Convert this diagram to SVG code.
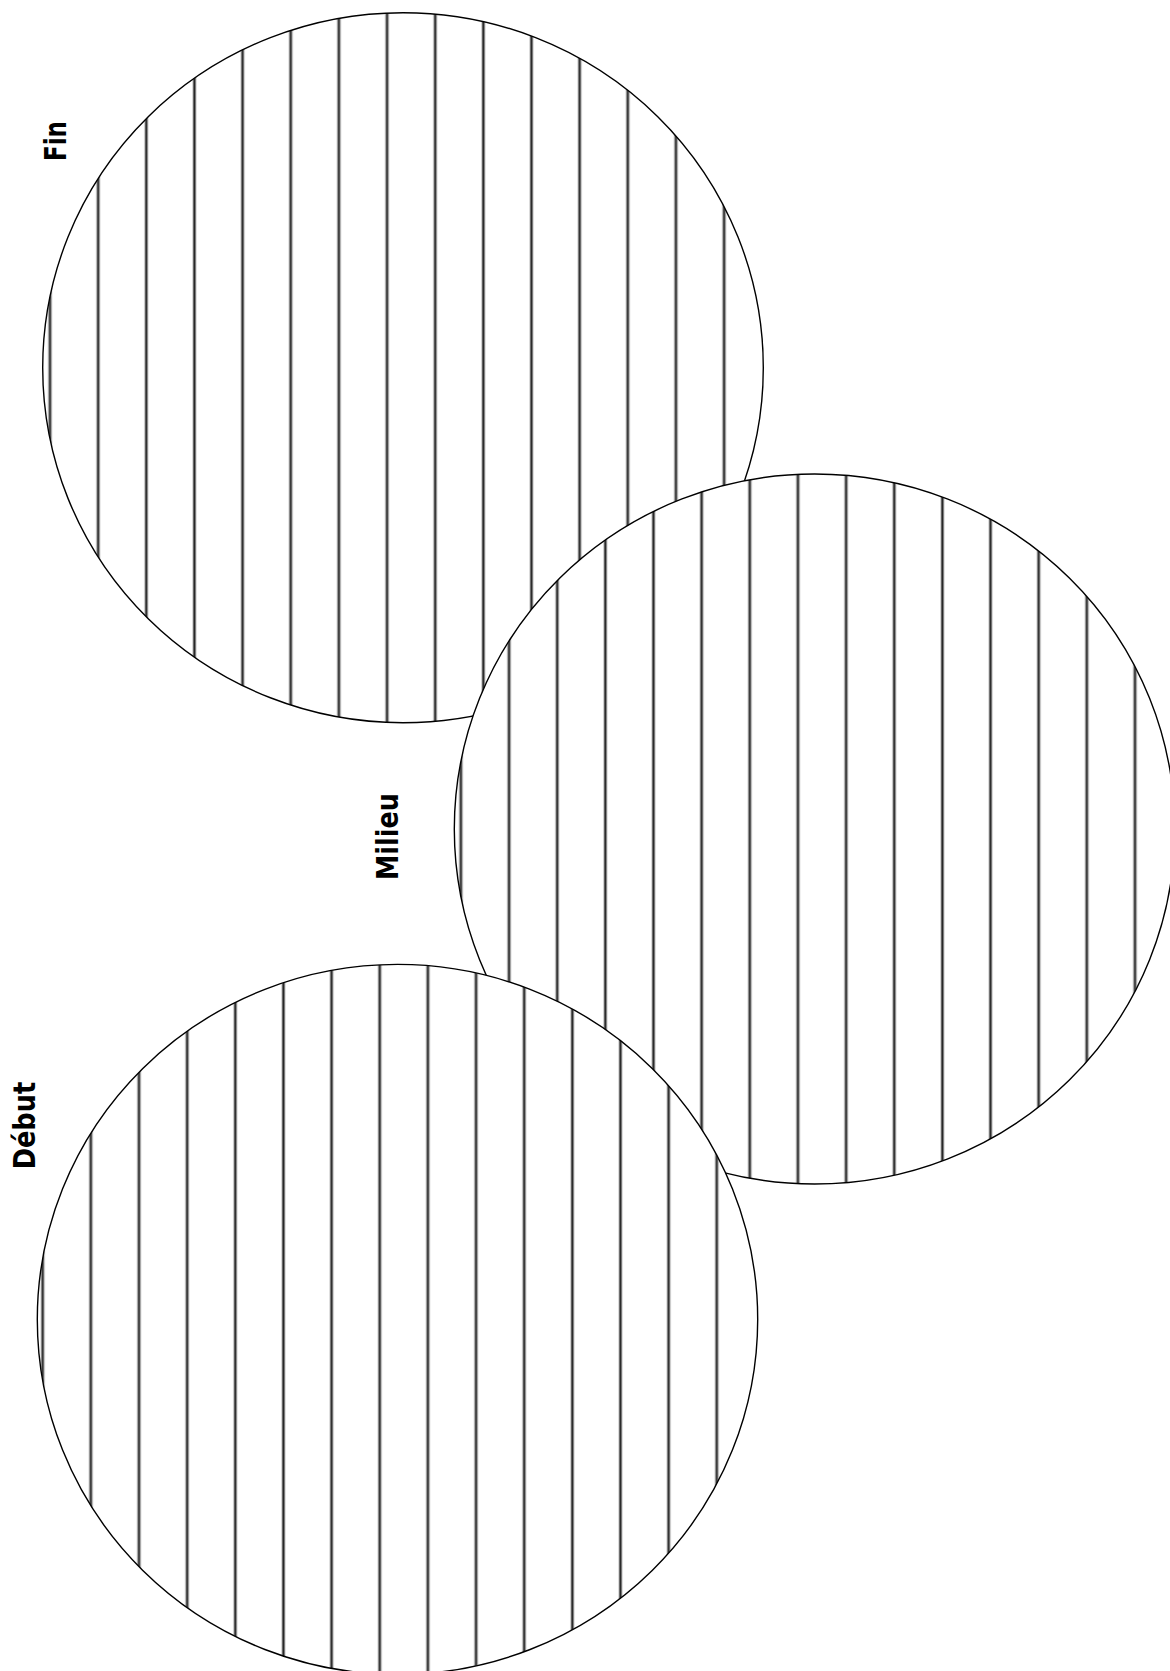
<svg xmlns="http://www.w3.org/2000/svg" width="1170" height="1671" viewBox="0 0 1170 1671">
<style>
.edge{fill:none;stroke:#000;stroke-width:1.4}
.bg{fill:#fff}
.lbl{font-family:"DejaVu Sans","Liberation Sans",sans-serif;font-weight:bold;font-size:31px;fill:#000}
</style>
<defs>
<pattern id="pFin" patternUnits="userSpaceOnUse" x="26" y="0" width="48.15" height="1671">
<rect x="0" y="0" width="48.15" height="1671" fill="#fff"/>
<line x1="24" y1="0" x2="24" y2="1671" stroke="#bdbdbd" stroke-width="4"/>
<line x1="24" y1="0" x2="24" y2="1671" stroke="#262626" stroke-width="2"/>
</pattern>
<pattern id="pMil" patternUnits="userSpaceOnUse" x="436.9" y="0" width="48.15" height="1671">
<rect x="0" y="0" width="48.15" height="1671" fill="#fff"/>
<line x1="24" y1="0" x2="24" y2="1671" stroke="#bdbdbd" stroke-width="4"/>
<line x1="24" y1="0" x2="24" y2="1671" stroke="#262626" stroke-width="2"/>
</pattern>
<pattern id="pDeb" patternUnits="userSpaceOnUse" x="18.7" y="0" width="48.15" height="1671">
<rect x="0" y="0" width="48.15" height="1671" fill="#fff"/>
<line x1="24" y1="0" x2="24" y2="1671" stroke="#bdbdbd" stroke-width="4"/>
<line x1="24" y1="0" x2="24" y2="1671" stroke="#262626" stroke-width="2"/>
</pattern>
</defs>
<rect x="0" y="0" width="1170" height="1671" fill="#fff"/>
<g id="fin">
<ellipse cx="403" cy="367.7" rx="360.3" ry="355" fill="url(#pFin)"/>
<ellipse class="edge" cx="403" cy="367.7" rx="360.3" ry="355"/>
<text class="lbl" transform="translate(66,161) rotate(-90)" textLength="40" lengthAdjust="spacingAndGlyphs">Fin</text>
</g>
<g id="milieu">
<ellipse cx="814.6" cy="829" rx="360.3" ry="355" fill="url(#pMil)"/>
<ellipse class="edge" cx="814.6" cy="829" rx="360.3" ry="355"/>
<text class="lbl" transform="translate(397.5,880) rotate(-90)" textLength="87" lengthAdjust="spacingAndGlyphs">Milieu</text>
</g>
<g id="debut">
<ellipse cx="397.5" cy="1319.4" rx="360.2" ry="355" fill="url(#pDeb)"/>
<ellipse class="edge" cx="397.5" cy="1319.4" rx="360.2" ry="355"/>
<text class="lbl" transform="translate(35,1169.3) rotate(-90)" textLength="87.5" lengthAdjust="spacingAndGlyphs">Début</text>
</g>
<g id="connectors"/>
</svg>
